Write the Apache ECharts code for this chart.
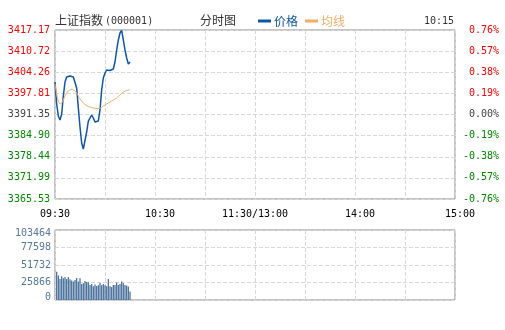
<!DOCTYPE html>
<html><head><meta charset="utf-8">
<script src="https://cdn.jsdelivr.net/npm/echarts@6/dist/echarts.min.js"></script>
<style>html,body{margin:0;padding:0;background:#fff}#c{width:505px;height:330px}</style>
</head><body><div id="c"></div>
<script>
const times = ['09:30','09:31','09:32','09:33','09:34','09:35','09:36','09:37','09:38','09:39',
  '09:40','09:41','09:42','09:43','09:44','09:45','09:46','09:47','09:48','09:49',
  '09:50','09:51','09:52','09:53','09:54','09:55','09:56','09:57','09:58','09:59',
  '10:00','10:01','10:02','10:03','10:04','10:05','10:06','10:07','10:08','10:09',
  '10:10','10:11','10:12','10:13','10:14','10:15'];
const price = [3401.28,3394.56,3390.89,3389.67,3391.50,3397.00,3401.28,3402.81,3403.42,3403.11,
  3402.96,3402.81,3402.20,3399.45,3393.34,3387.53,3382.64,3380.81,3381.42,3386.00,
  3389.36,3390.28,3391.20,3390.28,3389.06,3389.06,3389.36,3392.73,3398.84,3402.50,
  3404.03,3404.95,3404.95,3404.79,3404.64,3405.25,3407.39,3411.06,3414.11,3416.25,
  3417.02,3414.11,3411.06,3408.61,3406.78,3407.39];
const avgPrice = [3400.67,3397.61,3395.48,3394.56,3394.86,3395.78,3397.00,3397.92,3398.53,3398.84,
  3398.99,3398.84,3398.53,3397.92,3397.00,3396.09,3395.48,3394.86,3394.41,3394.10,
  3393.79,3393.64,3393.49,3393.34,3393.24,3393.18,3393.18,3393.24,3393.49,3393.95,
  3394.25,3394.56,3394.86,3395.17,3395.48,3395.78,3396.09,3396.39,3396.85,3397.31,
  3397.77,3398.23,3398.53,3398.68,3398.84,3398.84];
const volume = [null,41600,36100,31200,35100,32200,34100,31200,34100,30700,
  28700,27200,29700,32700,27200,32200,23800,24700,28200,26700,
  26200,22300,23800,20300,22800,20800,21800,25200,21800,23800,
  21800,20300,31200,20300,19300,22300,22300,25700,22300,23800,
  27200,24700,22300,21300,19800,12400];
const priceTicks = ['3365.53','3371.99','3378.44','3384.90','3391.35','3397.81','3404.26','3410.72','3417.17'];
const pctTicks = ['-0.76%','-0.57%','-0.38%','-0.19%','0.00%','0.19%','0.38%','0.57%','0.76%'];
const volTicks = ['0','25866','51732','77598','103464'];
const timeTicks = ['09:30','10:30','11:30/13:00','14:00','15:00'];

const base = parseFloat(priceTicks[4]);
const half = (parseFloat(priceTicks[8]) - parseFloat(priceTicks[0])) / 2;
const step = half / 4;
const volMax = parseFloat(volTicks[4]);
const volStep = volMax / 4;
function minuteIndex(t){const p=t.split(':');let m=(+p[0])*60+(+p[1])-570;if(m>120)m-=90;return m;}
function tickIdx(v){return Math.round((v+half)/step);}

const mono = '"DejaVu Sans Mono", monospace';
const cjk = '"Noto Sans CJK SC", sans-serif';
const gridLine = {show:true,lineStyle:{color:'#d8d8d8',type:[4,2],width:1}};
const chart = echarts.init(document.getElementById('c'), null, {renderer:'canvas'});
chart.setOption({
  animation:false,
  backgroundColor:'#fff',
  grid:[
    {left:55,right:50,top:30,height:169,show:true,borderColor:'#888',borderWidth:1,backgroundColor:'transparent'},
    {left:55,right:50,top:230,height:70,show:true,borderColor:'#888',borderWidth:1,backgroundColor:'transparent'}
  ],
  legend:{left:253,top:10,icon:'rect',itemWidth:13,itemHeight:3,itemGap:7,
    textStyle:{fontFamily:cjk,fontSize:12,padding:[0,0,0,-2]},
    data:[{name:'价格',textStyle:{color:'#0e56a6'}},{name:'均线',textStyle:{color:'#f3ad66'}}]},
  graphic:[
    {type:'text',left:55,top:14,style:{text:'上证指数',font:'12px "Noto Sans CJK SC"',fill:'#333'}},
    {type:'text',left:105,top:16,style:{text:'(000001)',font:'10px "DejaVu Sans Mono"',fill:'#333'}},
    {type:'text',left:200,top:14,style:{text:'分时图',font:'12px "Noto Sans CJK SC"',fill:'#333'}},
    {type:'text',right:51,top:16,style:{text:'10:15',font:'10px "DejaVu Sans Mono"',fill:'#333'}}
  ],
  xAxis:[
    {type:'value',gridIndex:0,min:0,max:240,interval:30,
      axisLine:{show:false},axisTick:{show:false},splitLine:gridLine,
      axisLabel:{margin:10,fontFamily:mono,fontSize:10,color:'#000',showMinLabel:true,showMaxLabel:true,
        formatter:function(v){if(v%60!==0)return '';const s=timeTicks[v/60];return (v===60||v>=180)?'{s|'+s+'}':'{n|'+s+'}';},
        rich:{s:{fontFamily:mono,fontSize:10,color:'#000',padding:[0,0,0,10]},n:{fontFamily:mono,fontSize:10,color:'#000'}}}},
    {type:'value',gridIndex:1,min:0,max:240,interval:30,
      axisLine:{show:false},axisTick:{show:false},splitLine:gridLine,axisLabel:{show:false}}
  ],
  yAxis:[
    {type:'value',gridIndex:0,min:-half,max:half,interval:step,
      axisLine:{show:false},axisTick:{show:false},splitLine:gridLine,
      axisLabel:{margin:5,fontFamily:mono,fontSize:10,showMinLabel:true,showMaxLabel:true,
        formatter:function(v){return priceTicks[tickIdx(v)];},
        color:function(v){const i=tickIdx(+v);return i>4?'#f00':(i<4?'#080':'#444');}}},
    {type:'value',gridIndex:0,position:'right',min:-half,max:half,interval:step,
      axisLine:{show:false},axisTick:{show:false},splitLine:{show:false},
      axisLabel:{margin:44,align:'right',fontFamily:mono,fontSize:10,showMinLabel:true,showMaxLabel:true,
        formatter:function(v){return pctTicks[tickIdx(v)];},
        color:function(v){const i=tickIdx(+v);return i>4?'#f00':(i<4?'#080':'#444');}}},
    {type:'value',gridIndex:1,min:0,max:volMax,interval:volStep,
      axisLine:{show:false},axisTick:{show:false},splitLine:gridLine,
      axisLabel:{margin:4,fontFamily:mono,fontSize:10,color:'#54789f',showMinLabel:true,showMaxLabel:true,
        formatter:function(v){const i=Math.round(v/volStep);const s=volTicks[i];
          return i===4?'{d|'+s+'}':(i===0?'{u|'+s+'}':'{n|'+s+'}');},
        rich:{d:{fontFamily:mono,fontSize:10,color:'#54789f',padding:[6,0,0,0]},
              u:{fontFamily:mono,fontSize:10,color:'#54789f',padding:[0,0,6,0]},
              n:{fontFamily:mono,fontSize:10,color:'#54789f'}}}}
  ],
  series:[
    {name:'价格',type:'line',xAxisIndex:0,yAxisIndex:0,showSymbol:false,symbol:'none',
      lineStyle:{color:'#0e56a6',width:1.5},itemStyle:{color:'#0e56a6'},
      data:price.map((p,i)=>[minuteIndex(times[i]),p-base])},
    {name:'均线',type:'line',xAxisIndex:0,yAxisIndex:0,showSymbol:false,symbol:'none',smooth:0.3,
      lineStyle:{color:'#f3ad66',width:1},itemStyle:{color:'#f3ad66'},
      data:avgPrice.map((p,i)=>[minuteIndex(times[i]),p-base])},
    {name:'成交量',type:'bar',xAxisIndex:1,yAxisIndex:2,barWidth:1.3,
      itemStyle:{color:'#4d74a0'},
      data:volume.map((v,i)=>[minuteIndex(times[i]),v])}
  ]
});
</script></body></html>
